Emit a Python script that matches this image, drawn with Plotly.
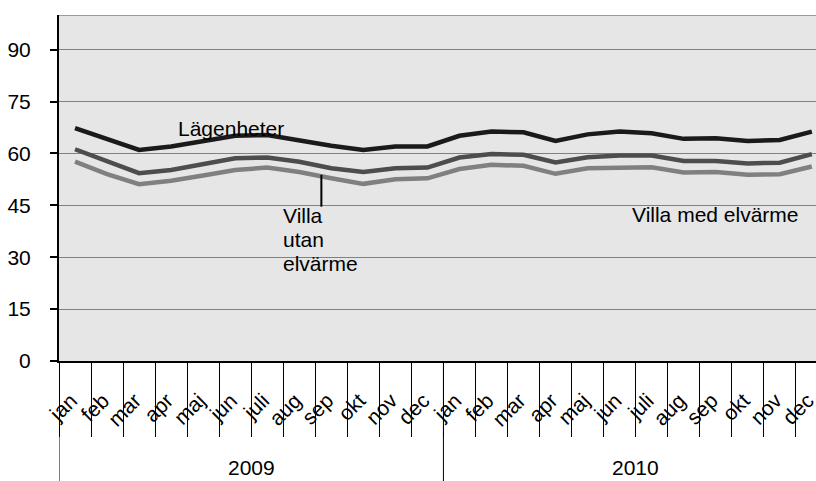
import plotly.graph_objects as go

# data
years = ["2009", "2010"]
months = ["jan", "feb", "mar", "apr", "maj", "jun", "juli", "aug", "sep", "okt", "nov", "dec"]

lagenheter = [67.3, 64.2, 61.0, 62.0, 63.4, 65.1, 65.3, 63.6, 62.2, 61.0, 62.0, 62.0,
              65.1, 66.3, 66.1, 63.6, 65.5, 66.3, 65.8, 64.2, 64.4, 63.6, 63.9, 66.3]
villa_med = [61.2, 57.6, 54.3, 55.2, 56.9, 58.6, 58.8, 57.6, 55.7, 54.6, 55.7, 55.9,
             58.8, 59.8, 59.6, 57.4, 58.9, 59.4, 59.4, 57.8, 57.8, 57.1, 57.3, 59.8]
villa_utan = [57.6, 54.0, 51.1, 52.1, 53.6, 55.2, 55.9, 54.6, 52.8, 51.2, 52.5, 52.8,
              55.5, 56.7, 56.4, 54.1, 55.7, 56.0, 56.0, 54.5, 54.6, 53.8, 54.0, 56.2]

labels = months * len(years)
x = list(range(len(labels)))

FONT = "Liberation Sans, Arial, sans-serif"

fig = go.Figure()
for name, vals, color in [
    ("Villa utan elvärme", villa_utan, "#808080"),
    ("Villa med elvärme", villa_med, "#4d4d4d"),
    ("Lägenheter", lagenheter, "#1a1a1a"),
]:
    fig.add_trace(go.Scatter(x=x, y=vals, name=name, mode="lines",
                             line=dict(color=color, width=4.5)))

fig.update_layout(
    width=816, height=481,
    margin=dict(l=59, r=0, t=15, b=120),
    plot_bgcolor="#e6e6e6",
    paper_bgcolor="white",
    showlegend=False,
    font=dict(family=FONT, size=21, color="black"),
)

fig.update_yaxes(
    range=[0, 100], tickvals=[0, 15, 30, 45, 60, 75, 90],
    showgrid=True, gridcolor="#808080", gridwidth=1,
    zeroline=False, showline=True, linecolor="black", linewidth=2,
    ticks="outside", ticklen=7, tickcolor="black", tickwidth=1.5,
    ticklabelstandoff=15, automargin=False,
)

fig.update_xaxes(
    range=[-0.5, 23.13], tickvals=x, ticktext=labels, tickangle=-45,
    showgrid=False, zeroline=False, showline=True, linecolor="black", linewidth=2,
    ticks="", ticklabelstandoff=17, ticklabelshift=-4,
    automargin=False, ticklabeloverflow="allow",
    minor=dict(tickmode="array", tickvals=[i - 0.5 for i in range(len(labels) + 1)],
               ticks="outside", ticklen=74, tickcolor="black", tickwidth=1),
)

# top border of plot area
fig.add_shape(type="line", xref="paper", yref="y", x0=0, x1=1, y0=100, y1=100,
              line=dict(color="#808080", width=1.5))

# year separators reaching down to the year row
for b in [-0.5, 11.5]:
    fig.add_shape(type="line", xref="x", yref="paper", x0=b, x1=b, y0=0, y1=-0.36,
                  line=dict(color="black", width=1))

# year labels
for i, yr in enumerate(years):
    fig.add_annotation(x=i * 12 + 5.5, y=-0.308, xref="x", yref="paper", text=yr,
                       showarrow=False, yanchor="middle", font=dict(size=21))

# series labels
fig.add_annotation(x=3.14, y=67.2, xref="x", yref="y", text="Lägenheter",
                   showarrow=False, xanchor="left", yanchor="middle")
for j, word in enumerate(["Villa", "utan", "elvärme"]):
    fig.add_annotation(x=6.42, y=42.0 - j * 6.95, xref="x", yref="y", text=word,
                       showarrow=False, xanchor="left", yanchor="middle")
fig.add_shape(type="line", xref="x", yref="y", x0=7.69, x1=7.69, y0=53.8, y1=44.6,
              line=dict(color="black", width=2))
fig.add_annotation(x=17.33, y=42.2, xref="x", yref="y", text="Villa med elvärme",
                   showarrow=False, xanchor="left", yanchor="middle")

# the page's default body margin would shift the figure by 8px
fig.write_html("out.html", config={"displayModeBar": False},
               post_script="document.body.style.margin='0';")
